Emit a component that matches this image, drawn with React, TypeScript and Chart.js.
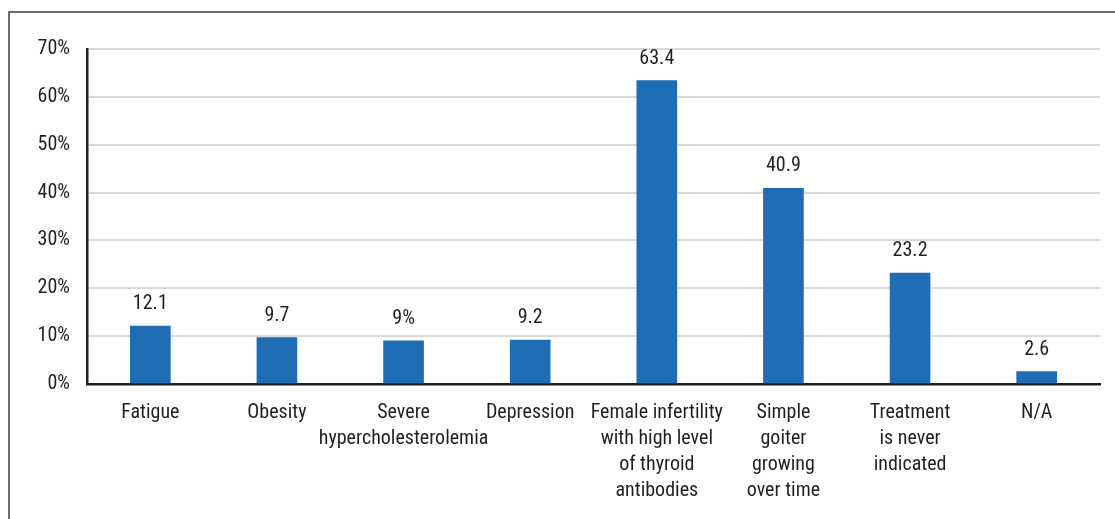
import React, { useEffect, useRef } from "react";
import { Chart, registerables } from "chart.js";

Chart.register(...registerables);

const categories: (string | string[])[] = [
  "Fatigue",
  "Obesity",
  ["Severe", "hypercholesterolemia"],
  "Depression",
  ["Female infertility", "with high level", "of thyroid", "antibodies"],
  ["Simple", "goiter", "growing", "over time"],
  ["Treatment", "is never", "indicated"],
  "N/A",
];
const values = [12.1, 9.7, 9, 9.2, 63.4, 40.9, 23.2, 2.6];
const valueLabels = ["12.1", "9.7", "9%", "9.2", "63.4", "40.9", "23.2", "2.6"];
const yTicks = [0, 10, 20, 30, 40, 50, 60, 70];

const FONT = "'Roboto Condensed', 'Arial Narrow', 'Roboto', sans-serif";
const TEXT = "#231f20";

const valueLabelPlugin = {
  id: "valueLabels",
  afterDatasetsDraw(chart: any) {
    const ctx = chart.ctx;
    const meta = chart.getDatasetMeta(0);
    ctx.save();
    ctx.font = `20px ${FONT}`;
    ctx.fillStyle = TEXT;
    ctx.textAlign = "center";
    ctx.textBaseline = "alphabetic";
    meta.data.forEach((bar: any, i: number) => {
      ctx.fillText(valueLabels[i], bar.x, bar.y - 17);
    });
    ctx.restore();
  },
};

export default function App() {
  const ref = useRef<HTMLCanvasElement>(null);
  useEffect(() => {
    document.body.style.margin = "0";
    document.body.style.overflow = "hidden";
    const chart = new Chart(ref.current!, {
      type: "bar",
      data: {
        labels: categories,
        datasets: [
          {
            data: values,
            backgroundColor: "#1e6db5",
            barThickness: 40,
          },
        ],
      },
      options: {
        animation: false,
        responsive: false,
        maintainAspectRatio: false,
        layout: { padding: { left: 0, top: 49, right: 15, bottom: 0 } },
        plugins: { legend: { display: false }, tooltip: { enabled: false } },
        scales: {
          x: {
            grid: { display: false, drawTicks: false },
            border: { color: TEXT, width: 2.5 },
            ticks: {
              color: TEXT,
              font: { family: FONT, size: 20, lineHeight: 1.3 },
              padding: 16,
              maxRotation: 0,
              minRotation: 0,
              autoSkip: false,
            },
            afterFit: (s: any) => {
              s.height = 135;
            },
          },
          y: {
            min: 0,
            max: 70,
            afterBuildTicks: (s: any) => {
              s.ticks = yTicks.map((v) => ({ value: v }));
            },
            grid: { color: "#d9d9d9", lineWidth: 2, drawTicks: false },
            border: { color: TEXT, width: 2.5 },
            ticks: {
              color: TEXT,
              font: { family: FONT, size: 20 },
              padding: 17,
              callback: (v: any) => `${v}%`,
            },
            afterFit: (s: any) => {
              s.width = 87;
            },
          },
        },
      },
      plugins: [valueLabelPlugin],
    });
    return () => chart.destroy();
  }, []);
  return (
    <div style={{ position: "relative", width: 1115, height: 519, background: "#fff" }}>
      <div
        style={{
          position: "absolute",
          left: 8,
          top: 11,
          width: 1115,
          height: 519,
          borderLeft: "2px solid #6b6b6b",
          borderTop: "2px solid #6b6b6b",
        }}
      />
      <canvas
        ref={ref}
        width={1115}
        height={519}
        style={{ position: "absolute", left: 0, top: 0 }}
      />
    </div>
  );
}
